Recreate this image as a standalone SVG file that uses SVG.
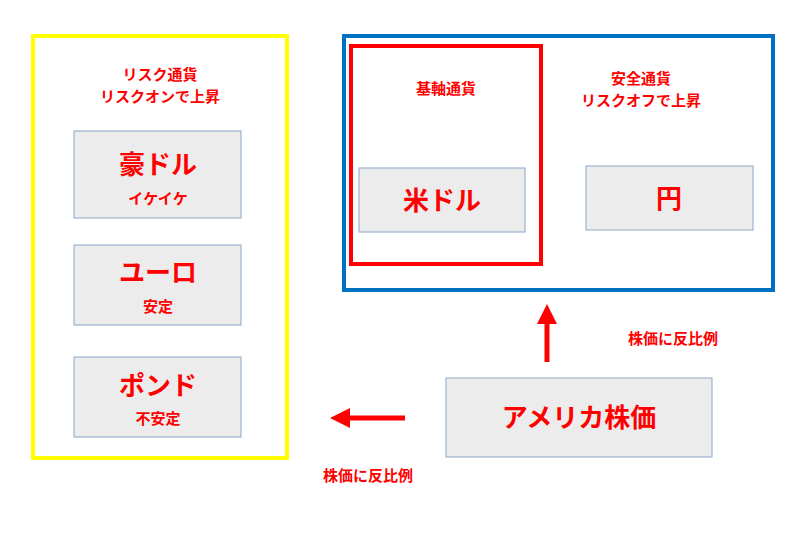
<svg xmlns="http://www.w3.org/2000/svg" width="800" height="540" viewBox="0 0 800 540">
<style>
text{font-family:"Noto Sans CJK JP","Liberation Sans",sans-serif;fill:#ff0000;font-weight:bold;text-anchor:middle}
.box{fill:#ececec;stroke:#8aa6c8;stroke-width:1}
.s{font-size:15px}.m{font-size:16px}.l{font-size:26px}
</style>
<defs><marker id="ah" markerWidth="4" markerHeight="4" refX="2" refY="2" orient="auto" markerUnits="strokeWidth"><path d="M0,0L4,2L0,4z" fill="#ff0000"/></marker></defs>
<rect width="800" height="540" fill="#fff"/>
<g id="frames">
<rect x="33" y="36" width="254" height="422" fill="none" stroke="#ffff00" stroke-width="4"/>
<rect x="344" y="36" width="429" height="254" fill="none" stroke="#0070c0" stroke-width="4"/>
<rect x="351" y="46" width="190" height="218" fill="none" stroke="#ff0000" stroke-width="4"/>
</g>
<g id="labels">
<text x="160" y="80" class="s">リスク通貨</text>
<text x="160" y="102" class="s">リスクオンで上昇</text>
<text x="446" y="94" class="s">基軸通貨</text>
<text x="641" y="84" class="s">安全通貨</text>
<text x="641" y="106" class="s">リスクオフで上昇</text>
<text x="673" y="344" class="s">株価に反比例</text>
<text x="368" y="481" class="s">株価に反比例</text>
</g>
<g id="aud"><rect class="box" x="74" y="131" width="167" height="87"/><text x="158" y="174" class="l">豪ドル</text><text x="158" y="204" class="s">イケイケ</text></g>
<g id="eur"><rect class="box" x="74" y="245" width="167" height="80"/><text x="158" y="282" class="l">ユーロ</text><text x="158" y="312" class="s">安定</text></g>
<g id="gbp"><rect class="box" x="74" y="357" width="167" height="80"/><text x="158" y="395" class="l">ポンド</text><text x="158" y="424" class="s">不安定</text></g>
<g id="usd"><rect class="box" x="359" y="168" width="166" height="64"/><text x="442" y="210" class="l">米ドル</text></g>
<g id="jpy"><rect class="box" x="586" y="166" width="167" height="64"/><text x="669" y="208" class="l">円</text></g>
<g id="us"><rect class="box" x="446" y="378" width="266" height="79"/><text x="579" y="427" class="l">アメリカ株価</text></g>
<g id="connectors" stroke="#ff0000" stroke-width="5">
<line x1="547" y1="362" x2="547" y2="314" marker-end="url(#ah)"/>
<line x1="405" y1="418" x2="340" y2="418" marker-end="url(#ah)"/>
</g>
</svg>
